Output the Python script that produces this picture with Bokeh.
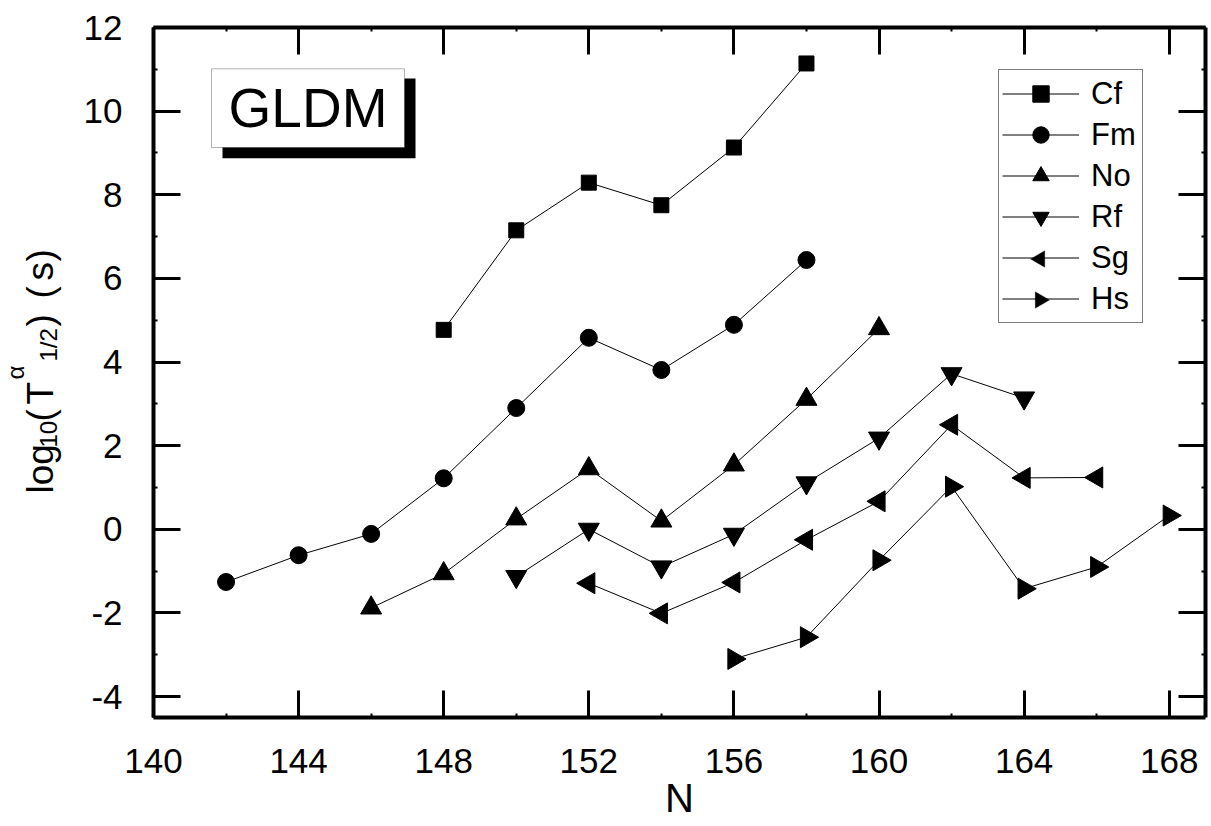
import math
from bokeh.plotting import figure
from bokeh.layouts import row
from bokeh.models import (LinearAxis, Range1d, Label, BoxAnnotation, Legend,
                          LegendItem, FixedTicker, PolyAnnotation)
from bokeh.core.properties import value
from bokeh.embed import file_html
from bokeh.resources import INLINE

# ---------------- data ----------------
N_cf = [148, 150, 152, 154, 156, 158]
cf = [4.77, 7.15, 8.29, 7.75, 9.13, 11.14]

N_fm = [142, 144, 146, 148, 150, 152, 154, 156, 158]
fm = [-1.26, -0.62, -0.11, 1.22, 2.90, 4.58, 3.81, 4.89, 6.44]

N_no = [146, 148, 150, 152, 154, 156, 158, 160]
no = [-1.88, -1.06, 0.25, 1.45, 0.20, 1.54, 3.11, 4.80]

N_rf = [150, 152, 154, 156, 158, 160, 162, 164]
rf = [-1.13, 0.00, -0.90, -0.12, 1.11, 2.18, 3.72, 3.14]

N_sg = [152, 154, 156, 158, 160, 162, 164, 166]
sg = [-1.29, -2.01, -1.27, -0.25, 0.67, 2.50, 1.23, 1.24]

N_hs = [156, 158, 160, 162, 164, 166, 168]
hs = [-3.10, -2.58, -0.74, 1.02, -1.42, -0.90, 0.33]

series_names = ["Cf", "Fm", "No", "Rf", "Sg", "Hs"]

x_ticks = [140, 144, 148, 152, 156, 160, 164, 168]
x_minor = list(range(140, 170, 2))
y_ticks = [-4, -2, 0, 2, 4, 6, 8, 10, 12]
y_minor = list(range(-4, 13, 1))

FONT = "Liberation Sans"

# page geometry (pixels)
W, H = 1211, 826
WL = 75                      # width of the strip that carries the y title
FL, FR, FT, FB = 153, 1205, 27, 717   # frame edges on the page
X0, X1, Y0, Y1 = 140, 169, -4.5, 12

def px2x(px):
    return X0 + (px - FL) * (X1 - X0) / (FR - FL)

def py2y(py):
    return Y0 + (FB - py) * (Y1 - Y0) / (FB - FT)

p = figure(width=W - WL, height=H, output_backend="svg", toolbar_location=None,
           x_range=Range1d(X0, X1), y_range=Range1d(Y0, Y1),
           min_border_left=FL - WL, min_border_right=W - FR, min_border_top=FT,
           min_border_bottom=H - FB)
p.xgrid.visible = False
p.ygrid.visible = False
p.outline_line_color = None
p.background_fill_color = "white"
p.border_fill_color = "white"

def style_axis(ax, ticks, minor, show_labels):
    ax.ticker = FixedTicker(ticks=ticks, minor_ticks=minor)
    ax.axis_line_width = 4
    ax.axis_line_color = "black"
    ax.major_tick_line_width = 3
    ax.major_tick_line_color = "black"
    ax.major_tick_in = 27
    ax.major_tick_out = 0
    ax.minor_tick_line_width = 2
    ax.minor_tick_line_color = "black"
    ax.minor_tick_in = 4
    ax.minor_tick_out = 0
    if show_labels:
        ax.major_label_text_font = FONT
        ax.major_label_text_font_size = "35px"
        ax.major_label_text_color = "black"
        ax.major_label_overrides = {t: str(t) for t in ticks}
    else:
        ax.major_label_text_font_size = "0px"
        ax.major_label_text_color = None
        ax.major_label_standoff = 0

style_axis(p.xaxis[0], x_ticks, x_minor, True)
style_axis(p.yaxis[0], y_ticks, y_minor, True)
p.xaxis[0].major_label_standoff = 31
p.yaxis[0].major_label_standoff = 31
p.xaxis[0].axis_label = "N"
p.xaxis[0].axis_label_text_font = FONT
p.xaxis[0].axis_label_text_font_size = "40px"
p.xaxis[0].axis_label_text_font_style = "normal"
p.xaxis[0].axis_label_text_color = "black"
p.xaxis[0].axis_label_standoff = 0

top = LinearAxis()
style_axis(top, x_ticks, x_minor, False)
p.add_layout(top, "above")
right = LinearAxis()
style_axis(right, y_ticks, y_minor, False)
p.add_layout(right, "right")

# ---------------- series ----------------
specs = [
    (N_cf, cf, "square", 0.0, 15),
    (N_fm, fm, "circle", 0.0, 17),
    (N_no, no, "triangle", 0.0, 21),
    (N_rf, rf, "inverted_triangle", 0.0, 21),
    (N_sg, sg, "triangle", math.pi / 2, 21),
    (N_hs, hs, "triangle", -math.pi / 2, 21),
]
items = []
for name, (xs, ys, marker, ang, sz) in zip(series_names, specs):
    ln = p.line(xs, ys, line_color="black", line_width=1)
    sc = p.scatter(xs, ys, marker=marker, size=sz, angle=ang,
                   fill_color="black", line_color="black", line_width=1)
    # legend glyphs are never rotated by Bokeh, so the sideways
    # triangles of Sg / Hs are drawn under the (transparent) legend below
    rends = [ln, sc] if ang == 0.0 else [ln]
    items.append(LegendItem(label=name, renderers=rends))

LEG_L, LEG_B = 845, 394      # legend bottom-left, relative to the frame
PAD, GW, GH = 3, 77, 41

# sideways legend triangles (same size Bokeh uses for legend markers)
leg_top = FB - (LEG_B + 2 * PAD + GH * len(items))
cx = FL + LEG_L + PAD + GW / 2
r = 0.4 * GH / 2
h = r * math.sqrt(3)
for i, ang in enumerate([s[3] for s in specs]):
    if ang == 0.0:
        continue
    cy = leg_top + PAD + GH * i + GH / 2
    d = -1 if ang > 0 else 1          # -1: points left, +1: points right
    pts = [(cx + d * 2 * h / 3, cy), (cx - d * h / 3, cy - r), (cx - d * h / 3, cy + r)]
    p.add_layout(PolyAnnotation(xs=[px2x(a) for a, _ in pts],
                                ys=[py2y(b) for _, b in pts],
                                xs_units="data", ys_units="data",
                                fill_color="black", fill_alpha=1.0,
                                line_color="black", line_width=1))

legend = Legend(items=items, location=(LEG_L, LEG_B), orientation="vertical",
                glyph_width=GW, glyph_height=GH, spacing=0, padding=PAD, margin=0,
                label_standoff=12, label_width=48,
                label_text_font=FONT, label_text_font_size="31px",
                label_text_color="black",
                border_line_color="black", border_line_width=1,
                background_fill_color="white", background_fill_alpha=0.0)
p.add_layout(legend)

# ---------------- GLDM box ----------------
p.add_layout(BoxAnnotation(left=px2x(222), right=px2x(415),
                           bottom=py2y(157.7), top=py2y(78),
                           fill_color="black", fill_alpha=1.0, line_color=None))
p.add_layout(BoxAnnotation(left=px2x(211), right=px2x(404),
                           bottom=py2y(147), top=py2y(68.3),
                           fill_color="white", fill_alpha=1.0,
                           line_color="black", line_width=1))
p.add_layout(Label(x=px2x(307.5), y=py2y(107.5), text="GLDM", text_font=FONT,
                   text_font_size="55px", text_align="center",
                   text_baseline="middle", text_color="black"))

# ---------------- y-axis title strip ----------------
pl = figure(width=WL, height=H, output_backend="svg", toolbar_location=None,
            x_range=Range1d(0, WL), y_range=Range1d(H - FB, H - FT),
            x_axis_type=None, y_axis_type=None,
            min_border_left=0, min_border_right=0,
            min_border_top=FT, min_border_bottom=H - FB)
pl.outline_line_color = None
pl.background_fill_color = "white"
pl.border_fill_color = "white"

DX = -10   # correction of the rotated-text baseline

def ylab(txt, bx, by, size):
    # bx: baseline x on the page, by: start (bottom) y on the page
    pl.text(x=[bx + DX], y=[H - by], text=[txt], angle=math.pi / 2,
            text_font=value(FONT), text_font_size=value(size),
            text_align="left", text_baseline="alphabetic", text_color="black")

ylab("log", 50, 493, "37px")
ylab("10", 58, 447, "24px")
ylab("(", 50, 421, "37px")
ylab("T", 50, 404, "37px")
ylab("\u03b1", 25, 379, "24px")
ylab("1/2", 58, 361, "24px")
ylab(")", 50, 326, "37px")
ylab("(", 50, 298, "37px")
ylab("s", 50, 280, "37px")
ylab(")", 50, 261, "37px")

layout = row(pl, p)
open("out.html", "w").write(file_html(layout, INLINE))
